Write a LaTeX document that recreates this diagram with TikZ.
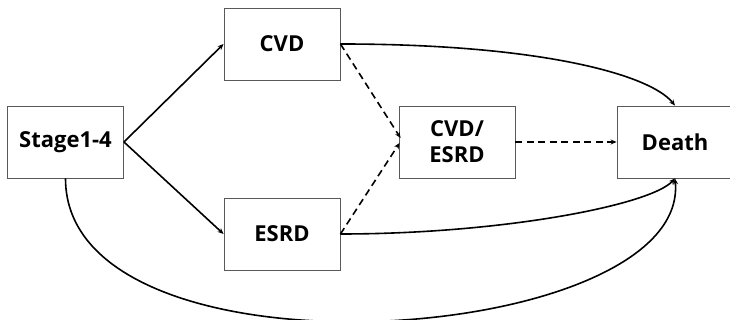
\documentclass[tikz,border=0pt]{standalone}
\usepackage{fontspec}
\setmainfont{Open Sans}
\usetikzlibrary{arrows.meta,calc}
\begin{document}
\begin{tikzpicture}[x=1pt,y=1pt,
  box/.style={draw=black!65,line width=0.9pt,fill=white,minimum width=116pt,minimum height=72pt,
    inner sep=0pt,font=\fontsize{22}{26}\selectfont\bfseries,align=center},
  conn/.style={line width=1.6pt,-{Stealth[length=6pt,width=5pt]}},
  dconn/.style={conn,dash pattern=on 7pt off 4.5pt}]
\clip (0,0) rectangle (730,320);
\fill[white] (0,0) rectangle (730,320);
\node[box] (stage) at (65.5,178) {Stage1-4};
\node[box] (cvd) at (282,276) {CVD};
\node[box] (esrd) at (282,86) {ESRD};
\node[box] (mid) at (457,178) {CVD/\\ESRD};
\node[box] (death) at (675,178) {Death};
\draw[conn] (stage.east) -- (cvd.west);
\draw[conn] (stage.east) -- (esrd.west);
\draw[dconn] (cvd.east) -- ($(mid.west)+(2,4)$);
\draw[dconn] (esrd.east) -- ($(mid.west)+(1,-1)$);
\draw[dconn] (mid.east) -- (death.west);
\draw[conn] (cvd.east) .. controls ($(cvd.east)+(200,0)$) and ($(death.north)+(-25,31)$) .. (death.north);
\draw[conn] (esrd.east) .. controls ($(esrd.east)+(160,0)$) and ($(death.south)+(-25,-27)$) .. (death.south);
\draw[conn] (stage.south) .. controls ($(stage.south)+(0,-212)$) and ($(death.south)+(15,-168)$) .. (death.south);
\end{tikzpicture}
\end{document}
